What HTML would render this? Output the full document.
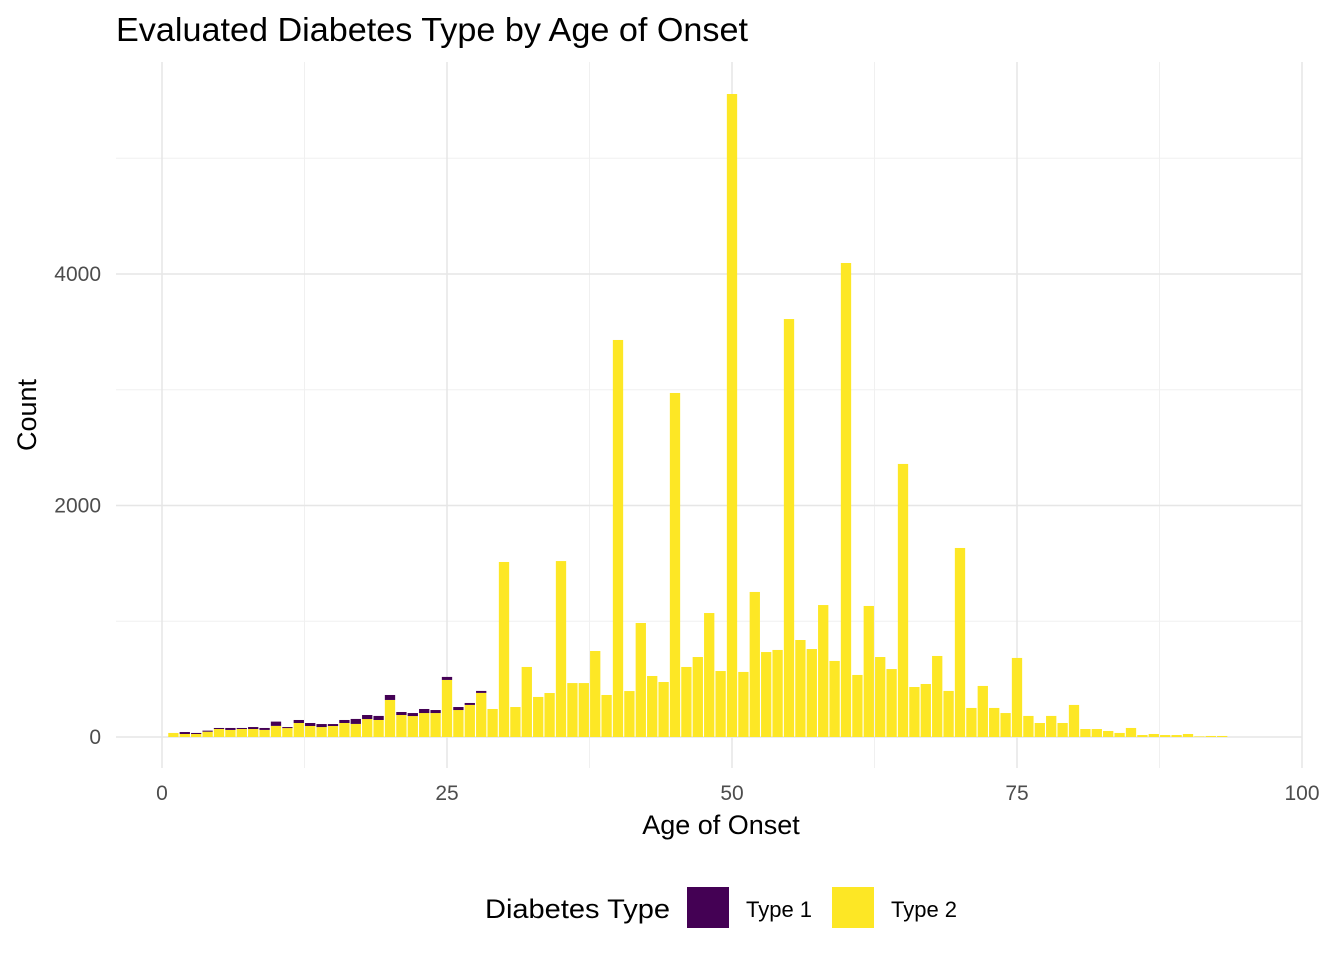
<!DOCTYPE html>
<html><head><meta charset="utf-8"><style>
body{margin:0;background:#fff}
svg text{font-family:"Liberation Sans",Arial,sans-serif}
</style></head><body>
<svg id="chart" width="1344" height="960" xmlns="http://www.w3.org/2000/svg">
<text x="116" y="41" font-size="33" textLength="632" lengthAdjust="spacingAndGlyphs" fill="#000">Evaluated Diabetes Type by Age of Onset</text>
<g id="grid"></g>
<g id="bars"></g>
<g id="axes"></g>
<text x="721" y="834" font-size="27" text-anchor="middle" fill="#000">Age of Onset</text>
<text transform="translate(36,415) rotate(-90)" font-size="27" text-anchor="middle" fill="#000">Count</text>
<g>
<text x="485" y="918" font-size="27" textLength="185" lengthAdjust="spacingAndGlyphs" fill="#000">Diabetes Type</text>
<rect x="687" y="887" width="42" height="41" fill="#440154"/>
<text x="746" y="917" font-size="22" fill="#000">Type 1</text>
<rect x="832" y="887" width="42" height="41" fill="#FDE725"/>
<text x="891" y="917" font-size="22" fill="#000">Type 2</text>
</g>
</svg>
<script>
const ages = [];
for (let a = 1; a <= 93; a++) ages.push(a);
const totals = [35,43,35,55,78,78,78,86,78,133,86,147,121,112,112,147,156,190,182,363,216,207,242,233,519,259,294,398,242,
1512,259,605,346,380,1520,466,466,743,363,3430,397,985,527,475,2972,605,691,1071,570,5555,562,1253,734,752,3611,838,760,1140,657,
4095,536,1132,691,587,2359,432,458,700,398,1633,251,441,251,207,683,182,121,182,121,277,69,69,52,35,78,17,26,17,17,26,5,9,9];
const type1 = [0,17,9,9,9,17,9,17,17,37,9,26,26,26,17,26,43,35,35,43,26,26,35,26,26,26,17,17,0];
const xTicks = [0,25,50,75,100];
const yTicks = [0,2000,4000];
const NS = "http://www.w3.org/2000/svg";
const xs = v => 162 + v * 11.4;
const ys = v => 737 - v * 0.11575;
function mk(tag, attrs, parent){const e=document.createElementNS(NS,tag);for(const k in attrs)e.setAttribute(k,attrs[k]);parent.appendChild(e);return e;}
const grid = document.getElementById('grid'), bars = document.getElementById('bars'), axes = document.getElementById('axes');
for (let v = 1000; v <= 5000; v += 2000) {
  const l = mk('line',{x1:116,x2:1302,y1:ys(v),y2:ys(v),stroke:'#f0f0f0','stroke-width':1},grid);
  
  
}
for (let v = 12.5; v < 100; v += 25) {
  const l = mk('line',{x1:xs(v),x2:xs(v),y1:62,y2:768,stroke:'#f0f0f0','stroke-width':1},grid);
  
  
}
yTicks.forEach(v => {
  const l = mk('line',{x1:116,x2:1302,y1:ys(v),y2:ys(v),stroke:'#e6e6e6','stroke-width':1.5},grid);
  
  
  const t = mk('text',{x:101,y:ys(v)+7,'font-size':21,'text-anchor':'end',fill:'#4d4d4d'},axes);
  t.textContent = v;
  
  
});
xTicks.forEach(v => {
  const l = mk('line',{x1:xs(v),x2:xs(v),y1:62,y2:768,stroke:'#e6e6e6','stroke-width':1.5},grid);
  
  
  const t = mk('text',{x:xs(v),y:800,'font-size':21,'text-anchor':'middle',fill:'#4d4d4d'},axes);
  t.textContent = v;
  
  
});
const bw = 10.3;
ages.forEach((a, i) => {
  const tot = totals[i] || 0, t1 = type1[i] || 0, t2 = tot - t1;
  const x = xs(a) - bw / 2;
  if (t2 > 0) {
    const r = mk('rect',{x:x,y:ys(t2),width:bw,height:ys(0)-ys(t2),fill:'#FDE725'},bars);
    
    
  }
  if (t1 > 0) {
    const r = mk('rect',{x:x,y:ys(tot),width:bw,height:ys(t2)-ys(tot),fill:'#440154'},bars);
    
    
  }
});
</script>
</body></html>
